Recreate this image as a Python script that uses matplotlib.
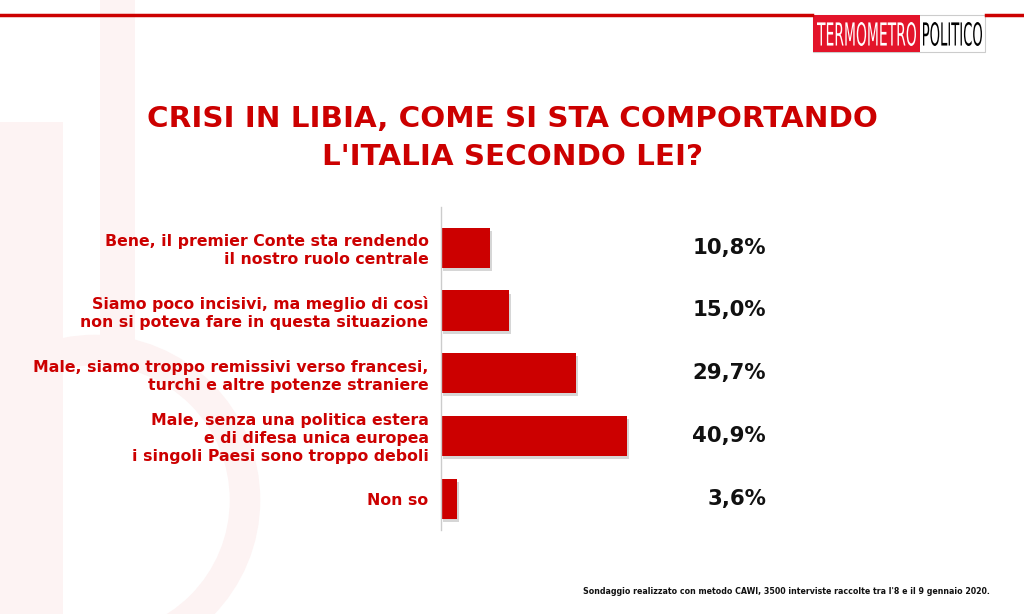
import numpy as np
import matplotlib.pyplot as plt
from matplotlib.patches import Rectangle, Circle, PathPatch
from matplotlib.textpath import TextPath
from matplotlib.font_manager import FontProperties
from matplotlib.transforms import blended_transform_factory, Affine2D

# --- Dati ---
risposte = [
    "Bene, il premier Conte sta rendendo\nil nostro ruolo centrale",
    "Siamo poco incisivi, ma meglio di così\nnon si poteva fare in questa situazione",
    "Male, siamo troppo remissivi verso francesi,\nturchi e altre potenze straniere",
    "Male, senza una politica estera\ne di difesa unica europea\ni singoli Paesi sono troppo deboli",
    "Non so",
]
percentuali = [10.8, 15.0, 29.7, 40.9, 3.6]
etichette = ["10,8%", "15,0%", "29,7%", "40,9%", "3,6%"]

titolo = "CRISI IN LIBIA, COME SI STA COMPORTANDO\nL'ITALIA SECONDO LEI?"
nota = "Sondaggio realizzato con metodo CAWI, 3500 interviste raccolte tra l'8 e il 9 gennaio 2020."

ROSSO = "#cc0000"
plt.rcParams["font.family"] = ["DejaVu Sans"]

W, H = 1024, 614
fig = plt.figure(figsize=(W / 100, H / 100), dpi=100)

# --- Filigrana (termometro) ---
bg = fig.add_axes([0, 0, 1, 1])
bg.set_xlim(0, W)
bg.set_ylim(H, 0)
bg.axis("off")
rosa = "#fdf3f3"
bg.add_patch(Rectangle((0, 122), 63, 492, color=rosa, lw=0))
bg.add_patch(Rectangle((100, 0), 35, 340, color=rosa, lw=0))
bg.add_patch(Circle((95, 500), 150, fill=False, ec=rosa, lw=22))

# --- Linea e logo ---
bg.plot([0, 812], [15, 15], color=ROSSO, lw=2.5)
bg.plot([986, W], [15, 15], color=ROSSO, lw=2.5)
bg.add_patch(Rectangle((813, 15), 172, 37, fc="white", ec="#cccccc", lw=0.8))
bg.add_patch(Rectangle((813, 15), 107, 37, fc="#e3142a", lw=0))


def scritta_logo(testo, x_sx, x_dx, colore):
    p = TextPath((0, 0), testo, size=10, prop=FontProperties(family="DejaVu Sans"))
    bb = p.get_extents()
    sx = (x_dx - x_sx) / bb.width
    sy = 24 / bb.height
    t = Affine2D().translate(-bb.x0, -bb.y0).scale(sx, -sy).translate(x_sx, 46)
    bg.add_patch(PathPatch(t.transform_path(p), fc=colore, lw=0))


scritta_logo("TERMOMETRO", 817, 916, "white")
scritta_logo("POLITICO", 923, 982, "black")

# --- Titolo ---
bg.text(512, 138, titolo, color=ROSSO, fontsize=21.2, fontweight="bold",
        ha="center", va="center", linespacing=1.45)

# --- Grafico ---
x0, y_top, y_bot = 441, 207, 530
ax = fig.add_axes([x0 / W, 1 - y_bot / H, 4.55 * 60 / W, (y_bot - y_top) / H])
y = np.arange(len(percentuali))
ax.barh(y + 0.05, percentuali, left=0.4, height=0.64, color="#bbbbbb", alpha=0.6)
ax.barh(y, percentuali, height=0.64, color=ROSSO)
ax.set_xlim(0, 60)
ax.set_ylim(4.5, -0.65)
ax.set_yticks(y)
ax.set_yticklabels(risposte, color=ROSSO, fontsize=11.3, fontweight="bold",
                   multialignment="right", linespacing=1.25)
ax.tick_params(axis="y", length=0, pad=9)
ax.set_xticks([])
for s in ["top", "right", "bottom"]:
    ax.spines[s].set_visible(False)
ax.spines["left"].set_color("#cccccc")
ax.spines["left"].set_linewidth(1)

tr = blended_transform_factory(fig.transFigure, ax.transData)
for yi, lab in zip(y, etichette):
    ax.text(766 / W, yi, lab, transform=tr, ha="right", va="center",
            fontsize=15.3, fontweight="bold", color="#111111")

# --- Nota ---
bg.text(990, 591, nota, fontsize=5.7, fontweight="bold", color="#111111",
        ha="right", va="center")

fig.savefig("out.png", dpi=100)
